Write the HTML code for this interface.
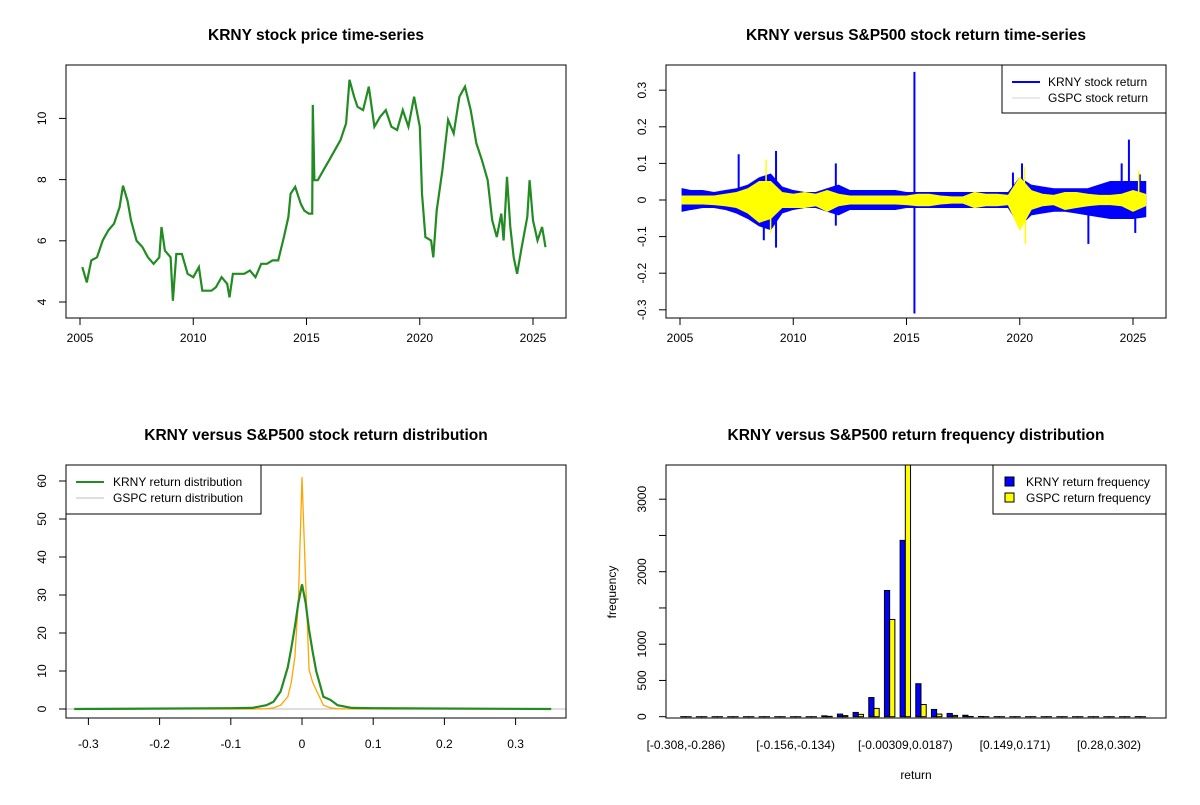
<!DOCTYPE html>
<html><head><meta charset="utf-8"><style>
body{margin:0;background:#fff}
svg text{font-family:"Liberation Sans",Arial,sans-serif;fill:#000}
.t{font-size:15.5px;font-weight:bold}
.k{font-size:12px}
</style></head><body>
<svg id="c" width="1200" height="800" xmlns="http://www.w3.org/2000/svg">
<rect width="1200" height="800" fill="#fff"/>
</svg>
<script>
// ---------- data ----------
const priceYears=[2005.1,2005.3,2005.5,2005.75,2006.0,2006.25,2006.5,2006.75,2006.9,2007.1,2007.25,2007.5,2007.75,2008.0,2008.25,2008.5,2008.6,2008.75,2009.0,2009.1,2009.25,2009.5,2009.75,2010.0,2010.25,2010.4,2010.6,2010.8,2011.0,2011.25,2011.5,2011.6,2011.75,2012.0,2012.25,2012.5,2012.75,2013.0,2013.25,2013.5,2013.75,2014.0,2014.2,2014.3,2014.5,2014.75,2014.9,2015.1,2015.25,2015.28,2015.35,2015.5,2015.75,2016.0,2016.25,2016.5,2016.75,2016.9,2017.1,2017.25,2017.5,2017.75,2018.0,2018.25,2018.5,2018.75,2019.0,2019.25,2019.5,2019.75,2020.0,2020.1,2020.25,2020.5,2020.6,2020.75,2021.0,2021.25,2021.5,2021.75,2022.0,2022.25,2022.5,2022.75,2023.0,2023.2,2023.4,2023.6,2023.7,2023.85,2024.0,2024.15,2024.3,2024.5,2024.75,2024.85,2025.0,2025.2,2025.4,2025.55];
const priceValues=[5.14,4.64,5.36,5.46,6.01,6.34,6.56,7.1,7.8,7.3,6.67,6.0,5.8,5.46,5.25,5.46,6.45,5.68,5.46,4.04,5.57,5.57,4.92,4.81,5.14,4.37,4.37,4.37,4.48,4.81,4.59,4.15,4.92,4.92,4.92,5.03,4.81,5.25,5.25,5.36,5.36,6.12,6.78,7.54,7.76,7.21,6.99,6.89,6.89,10.44,7.98,7.98,8.31,8.63,8.96,9.29,9.84,11.26,10.71,10.38,10.27,11.04,9.73,10.05,10.27,9.73,9.62,10.27,9.73,10.71,9.73,7.54,6.12,6.01,5.46,6.99,8.31,9.95,9.51,10.71,11.04,10.27,9.18,8.63,7.98,6.67,6.12,6.89,6.01,8.09,6.45,5.46,4.92,5.79,6.78,7.98,6.67,6.01,6.45,5.79];
const priceTicks=[4,6,8,10];
const yearTicks=[2005,2010,2015,2020,2025];

const retYears=[2005.1,2005.5,2006,2006.5,2007,2007.5,2008,2008.5,2009,2009.5,2010,2010.5,2011,2011.5,2012,2012.5,2013,2013.5,2014,2014.5,2015,2015.5,2016,2016.5,2017,2017.5,2018,2018.5,2019,2019.5,2020,2020.5,2021,2021.5,2022,2022.5,2023,2023.5,2024,2024.5,2025,2025.55];
const krnyHi=[0.03,0.025,0.025,0.02,0.025,0.03,0.04,0.06,0.07,0.035,0.025,0.02,0.02,0.03,0.04,0.025,0.025,0.025,0.025,0.025,0.02,0.02,0.02,0.02,0.02,0.02,0.02,0.02,0.02,0.02,0.06,0.04,0.035,0.03,0.03,0.03,0.03,0.04,0.05,0.05,0.05,0.05];
const krnyLo=[-0.03,-0.025,-0.02,-0.02,-0.025,-0.035,-0.05,-0.07,-0.08,-0.035,-0.025,-0.02,-0.02,-0.03,-0.04,-0.025,-0.025,-0.025,-0.025,-0.025,-0.02,-0.02,-0.02,-0.02,-0.02,-0.02,-0.02,-0.02,-0.02,-0.02,-0.07,-0.04,-0.035,-0.03,-0.03,-0.035,-0.04,-0.045,-0.05,-0.05,-0.05,-0.045];
const gspcHi=[0.01,0.01,0.01,0.01,0.015,0.02,0.03,0.05,0.05,0.02,0.015,0.02,0.015,0.025,0.015,0.01,0.01,0.01,0.01,0.01,0.01,0.015,0.015,0.01,0.008,0.008,0.02,0.015,0.015,0.012,0.06,0.025,0.015,0.012,0.02,0.02,0.015,0.012,0.012,0.015,0.025,0.015];
const gspcLo=[-0.01,-0.01,-0.01,-0.012,-0.015,-0.02,-0.035,-0.06,-0.05,-0.02,-0.02,-0.02,-0.015,-0.03,-0.015,-0.01,-0.01,-0.01,-0.01,-0.01,-0.012,-0.015,-0.015,-0.01,-0.008,-0.008,-0.02,-0.015,-0.015,-0.012,-0.08,-0.025,-0.015,-0.012,-0.025,-0.02,-0.015,-0.012,-0.012,-0.015,-0.03,-0.015];
const spikeYears=[2007.59,2008.7,2009.24,2009.24,2011.88,2011.88,2015.35,2015.35,2019.7,2020.1,2023.03,2024.82,2025.1,2025.3,2024.5];
const spikeValues=[0.125,-0.11,0.134,-0.13,0.1,-0.07,0.35,-0.31,0.075,0.1,-0.12,0.165,-0.09,0.07,0.1];
const gspcSpikeYears=[2008.8,2009.0,2020.2,2020.25,2025.25];
const gspcSpikeValues=[0.11,-0.09,0.09,-0.12,0.08];
const retTicks=[-0.3,-0.2,-0.1,0,0.1,0.2,0.3];

const densX=[-0.32,-0.1,-0.07,-0.05,-0.04,-0.03,-0.02,-0.015,-0.01,-0.005,0,0.005,0.01,0.015,0.02,0.03,0.04,0.05,0.07,0.1,0.35];
const krnyDens=[0,0.2,0.3,1,1.9,4.6,11,16,21.7,28,32.8,28,20.8,15,10,3.2,2.4,1,0.3,0.2,0];
const gspcDens=[0,0,0,0.1,0.3,1,3.2,7,13.8,28.7,61,34,10.3,7,5,1,0.3,0.1,0,0,0];
const densXTicks=[-0.3,-0.2,-0.1,0,0.1,0.2,0.3];
const densYTicks=[0,10,20,30,40,50,60];

const binLabels=["[-0.308,-0.286)","[-0.156,-0.134)","[-0.00309,0.0187)","[0.149,0.171)","[0.28,0.302)"];
const binLabelIdx=[0,7,14,21,27];
const krnyFreq=[1,0,0,0,0,0,0,0,0,12,36,59,264,1741,2432,455,100,45,20,3,1,0,0,0,0,0,0,0,0,1];
const gspcFreq=[0,0,0,0,0,0,0,0,0,5,15,32,114,1341,4300,168,36,18,3,0,0,0,0,0,0,0,0,0,0,0];
const freqTicks=[0,500,1000,1500,2000,2500,3000];
const freqLabelTicks=[0,500,1000,2000,3000];

// ---------- helpers ----------
const svg=document.getElementById('c');
const NS='http://www.w3.org/2000/svg';
function mk(tag,attrs,parent){const e=document.createElementNS(NS,tag);for(const k in attrs)e.setAttribute(k,attrs[k]);(parent||svg).appendChild(e);return e;}
function txt(s,x,y,cls,anchor,rot){const e=mk('text',{x:x,y:y,'class':cls,'text-anchor':anchor||'middle'});if(rot)e.setAttribute('transform','rotate(-90 '+x+' '+y+')');e.textContent=s;return e;}

// ---------- panel 1 : price ----------
const sx1=y=>80+(y-2005)*22.65, sy1=v=>302-(v-4)*30.6;
let g=mk('g',{});


let t=txt('KRNY stock price time-series',316,40,'t','middle');

let pts=priceYears.map((y,i)=>sx1(y).toFixed(1)+','+sy1(priceValues[i]).toFixed(1)).join(' ');
let pl=mk('polyline',{points:pts,fill:'none',stroke:'#228B22','stroke-width':2.2,'stroke-linejoin':'miter'},g);

mk('rect',{x:66,y:65,width:500,height:253,fill:'none',stroke:'#000'},g);
yearTicks.forEach(y=>{mk('line',{x1:sx1(y),x2:sx1(y),y1:318,y2:325,stroke:'#000'},g);const e=txt(String(y),sx1(y),342,'k');});
priceTicks.forEach(v=>{mk('line',{x1:59,x2:66,y1:sy1(v),y2:sy1(v),stroke:'#000'},g);const e=txt(String(v),46,sy1(v),'k','middle',true);});

// ---------- panel 2 : returns ----------
const sx2=y=>680+(y-2005)*22.65, sy2=v=>200-v*366;
g=mk('g',{});


t=txt('KRNY versus S&P500 stock return time-series',916,40,'t','middle');

function band(hi,lo,col,name){const up=retYears.map((y,i)=>sx2(y).toFixed(1)+','+sy2(hi[i]).toFixed(1));const dn=retYears.map((y,i)=>sx2(y).toFixed(1)+','+sy2(lo[i]).toFixed(1)).reverse();const p=mk('polygon',{points:up.concat(dn).join(' '),fill:col,stroke:col,'stroke-width':1.5},g);}
band(krnyHi,krnyLo,'#0000FF','krny-return-band');
spikeYears.forEach((y,i)=>{const l=mk('line',{x1:sx2(y),x2:sx2(y),y1:sy2(0),y2:sy2(spikeValues[i]),stroke:'#0000FF','stroke-width':2},g);});
band(gspcHi,gspcLo,'#FFFF00','gspc-return-band');
gspcSpikeYears.forEach((y,i)=>{const l=mk('line',{x1:sx2(y),x2:sx2(y),y1:sy2(0),y2:sy2(gspcSpikeValues[i]),stroke:'#FFFF00','stroke-width':1.5},g);});
mk('rect',{x:666,y:65,width:500,height:253,fill:'none',stroke:'#000'},g);
yearTicks.forEach(y=>{mk('line',{x1:sx2(y),x2:sx2(y),y1:318,y2:325,stroke:'#000'},g);const e=txt(String(y),sx2(y),342,'k');});
retTicks.forEach(v=>{mk('line',{x1:659,x2:666,y1:sy2(v),y2:sy2(v),stroke:'#000'},g);const e=txt(String(v),646,sy2(v),'k','middle',true);});
let lg=mk('g',{},g);
mk('rect',{x:1002,y:65,width:164,height:48,fill:'#fff',stroke:'#000'},lg);
mk('line',{x1:1012,x2:1040,y1:82,y2:82,stroke:'#0000FF','stroke-width':2},lg);
mk('line',{x1:1012,x2:1040,y1:98,y2:98,stroke:'#d3d3d3','stroke-width':1},lg);
txt('KRNY stock return',1048,86,'k','start',false);
txt('GSPC stock return',1048,102,'k','start',false);

// ---------- panel 3 : density ----------
const sx3=v=>302+v*712, sy3=d=>709-d*3.8;
g=mk('g',{});


t=txt('KRNY versus S&P500 stock return distribution',316,440,'t','middle');

mk('line',{x1:66,x2:566,y1:sy3(0),y2:sy3(0),stroke:'#bebebe'},g);
let dl=mk('polyline',{points:densX.map((x,i)=>sx3(x).toFixed(1)+','+sy3(gspcDens[i]).toFixed(1)).join(' '),fill:'none',stroke:'#FFA500','stroke-width':1.3},g);

dl=mk('polyline',{points:densX.map((x,i)=>sx3(x).toFixed(1)+','+sy3(krnyDens[i]).toFixed(1)).join(' '),fill:'none',stroke:'#228B22','stroke-width':2.2},g);

mk('rect',{x:66,y:465,width:500,height:253,fill:'none',stroke:'#000'},g);
densXTicks.forEach(v=>{mk('line',{x1:sx3(v),x2:sx3(v),y1:718,y2:725,stroke:'#000'},g);const e=txt(String(v),sx3(v),748,'k');});
densYTicks.forEach(v=>{mk('line',{x1:59,x2:66,y1:sy3(v),y2:sy3(v),stroke:'#000'},g);const e=txt(String(v),46,sy3(v),'k','middle',true);});
lg=mk('g',{},g);
mk('rect',{x:66,y:465,width:195,height:49,fill:'#fff',stroke:'#000'},lg);
mk('line',{x1:76,x2:104,y1:482,y2:482,stroke:'#228B22','stroke-width':2},lg);
mk('line',{x1:76,x2:104,y1:498,y2:498,stroke:'#bebebe','stroke-width':1},lg);
txt('KRNY return distribution',113,486,'k','start');
txt('GSPC return distribution',113,502,'k','start');

// ---------- panel 4 : histogram ----------
const grpX=i=>675.5+i*15.67, bw=5.22, sy4=f=>716.7-f*0.0725;
g=mk('g',{});


t=txt('KRNY versus S&P500 return frequency distribution',916,440,'t','middle');

mk('clipPath',{id:'cp4'},g).appendChild((()=>{const r=document.createElementNS(NS,'rect');r.setAttribute('x',666);r.setAttribute('y',465);r.setAttribute('width',500);r.setAttribute('height',253);return r;})());
const bars=mk('g',{'clip-path':'url(#cp4)'},g);
krnyFreq.forEach((f,i)=>{const y=sy4(f);const r=mk('rect',{x:grpX(i)+bw,y:y,width:bw,height:Math.max(716.7-y,0.01),fill:'#0000FF',stroke:'#000','stroke-width':1},bars);});
gspcFreq.forEach((f,i)=>{const y=sy4(f);const r=mk('rect',{x:grpX(i)+2*bw,y:Math.max(y,464),width:bw,height:Math.max(716.7-Math.max(y,464),0.01),fill:'#FFFF00',stroke:'#000','stroke-width':1},bars);});
mk('rect',{x:666,y:465,width:500,height:253,fill:'none',stroke:'#000'},g);
binLabelIdx.forEach((b,j)=>{const e=txt(binLabels[j],grpX(b)+bw*2,749,'k');});
freqTicks.forEach(v=>{mk('line',{x1:659,x2:666,y1:sy4(v),y2:sy4(v),stroke:'#000'},g);});
freqLabelTicks.forEach(v=>{const e=txt(String(v),646,sy4(v),'k','middle',true);});
t=txt('frequency',616,592,'k','middle',true);
t=txt('return',916,779,'k','middle');
lg=mk('g',{},g);
mk('rect',{x:993,y:465,width:173,height:49,fill:'#fff',stroke:'#000'},lg);
mk('rect',{x:1005,y:477,width:9,height:9,fill:'#0000FF',stroke:'#000'},lg);
mk('rect',{x:1005,y:493,width:9,height:9,fill:'#FFFF00',stroke:'#000'},lg);
txt('KRNY return frequency',1026,486,'k','start');
txt('GSPC return frequency',1026,502,'k','start');
</script>
</body></html>
